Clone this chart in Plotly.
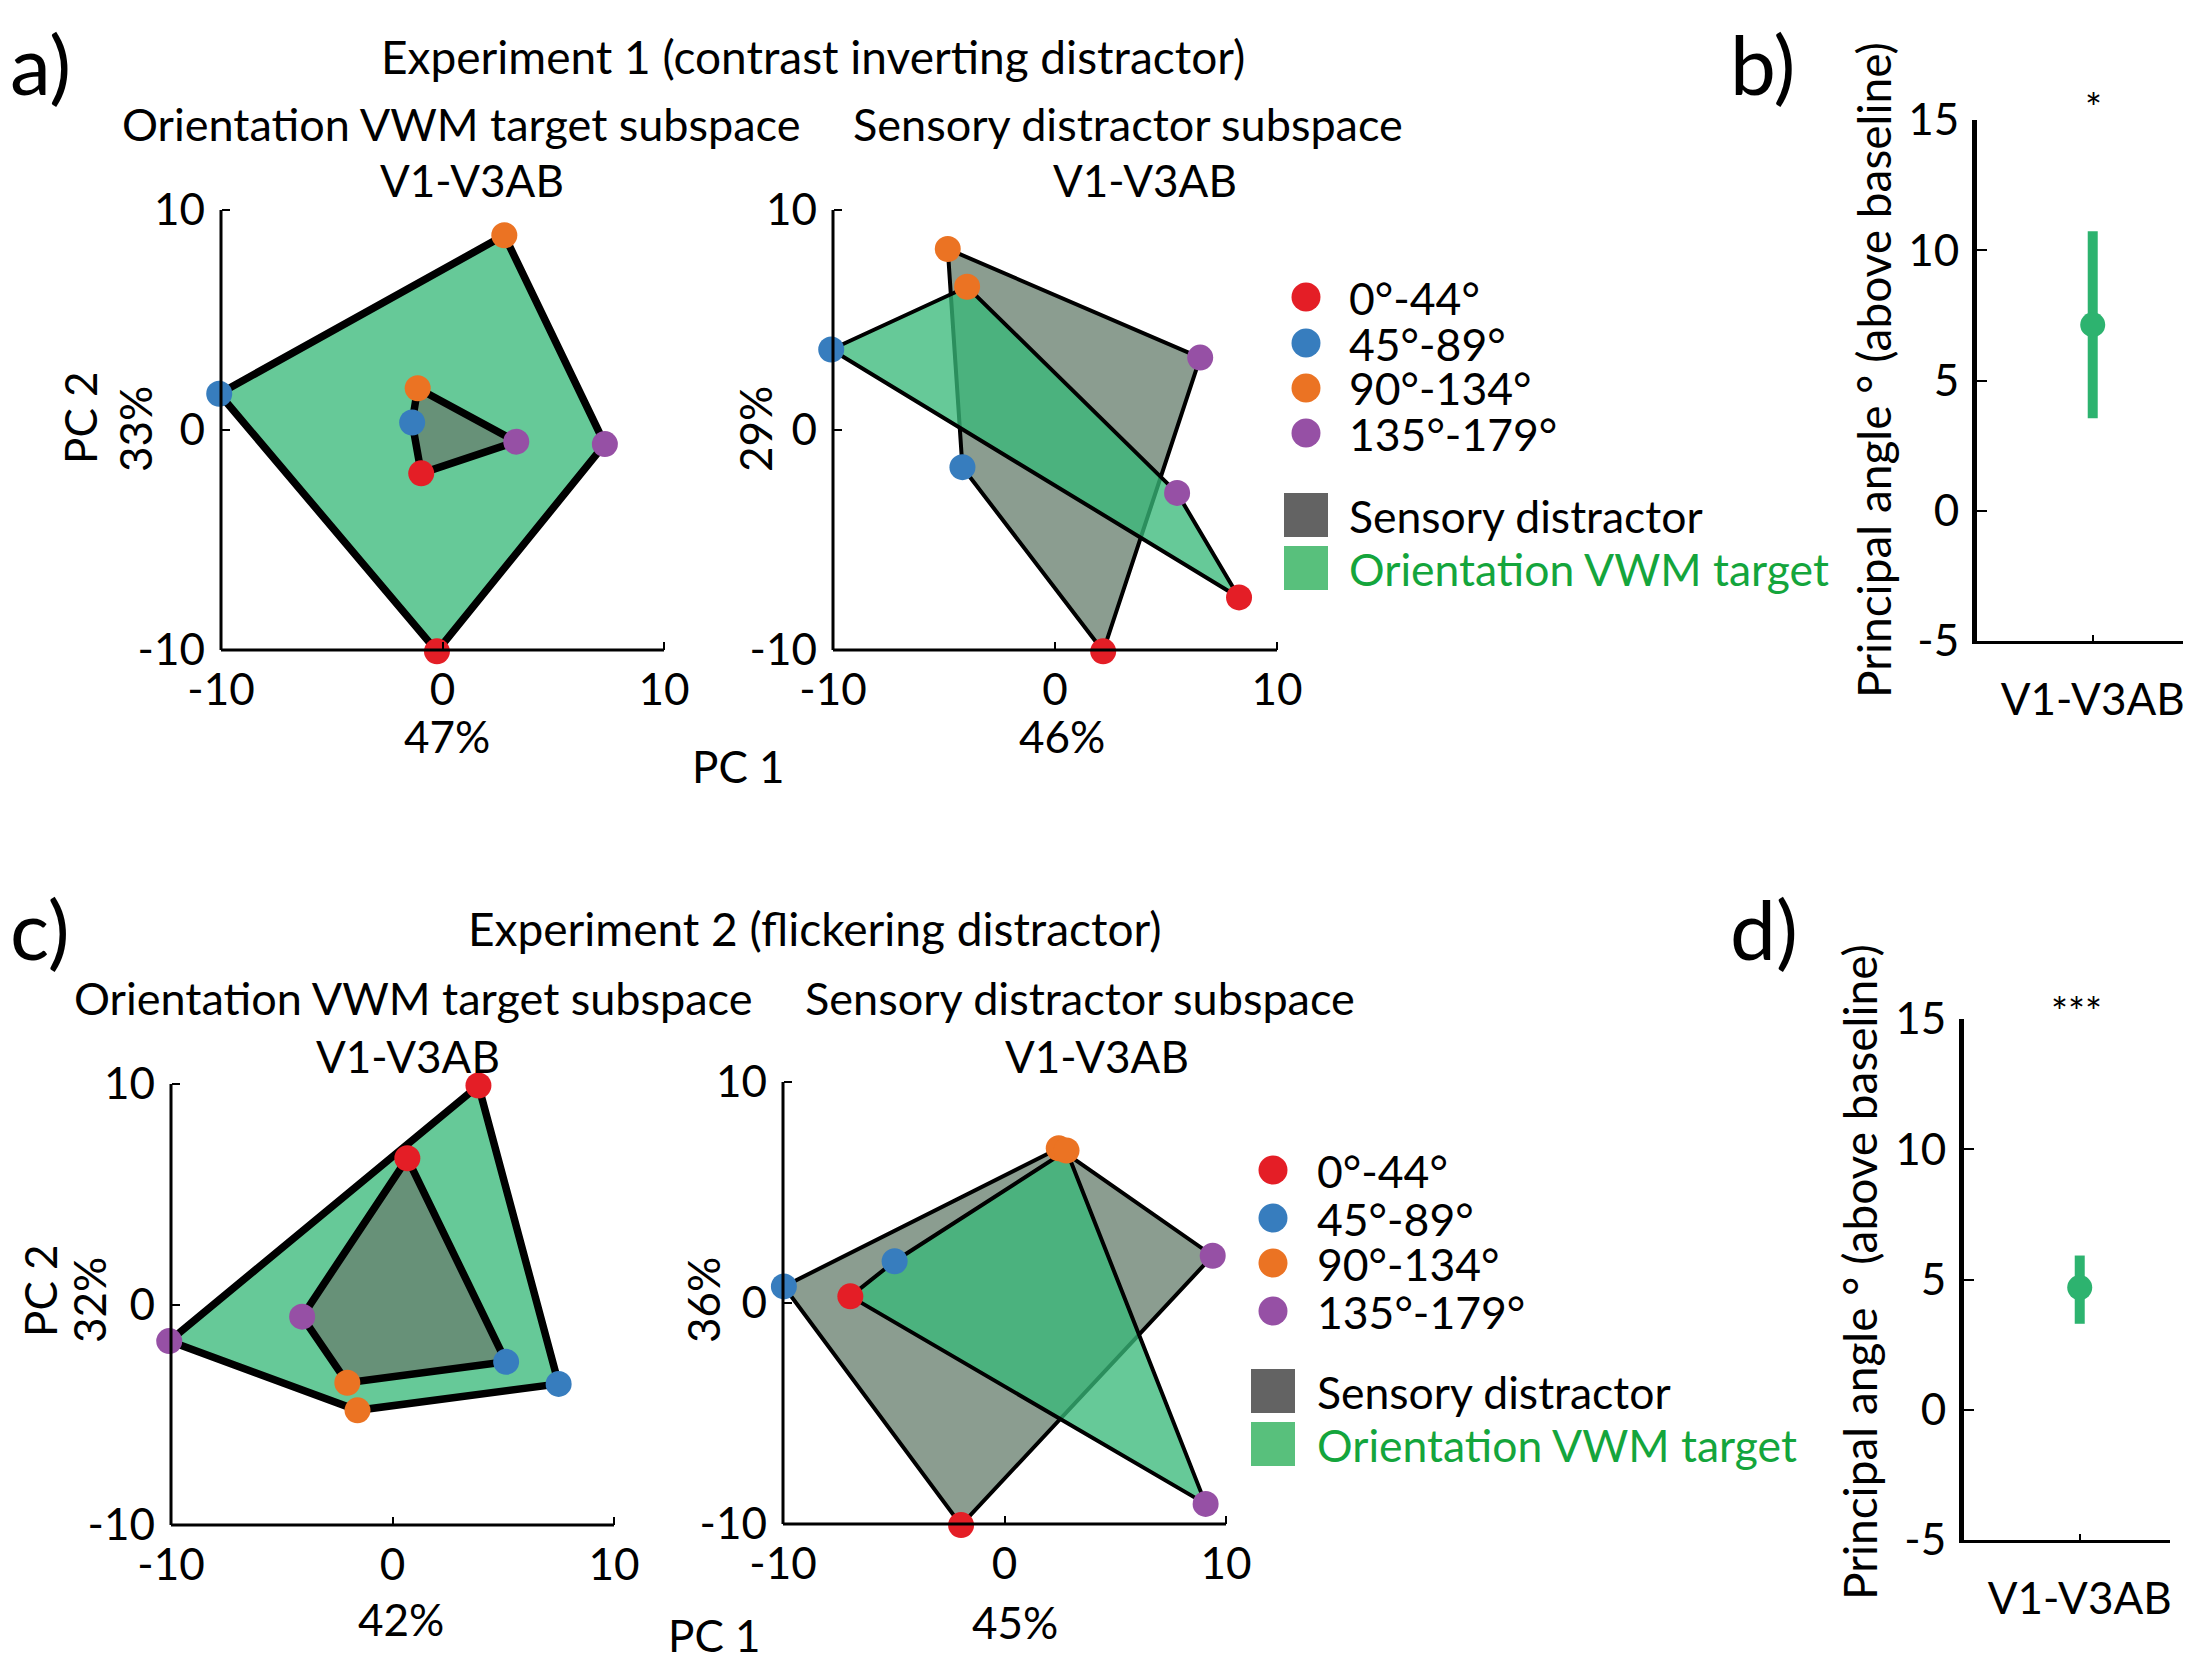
import plotly.graph_objects as go

W, H = 2205, 1665
FONT = "Lato"
OFF = 8  # the page body margin shifts the figure by 8 px

# ---------------- data ----------------
bins = ["0°-44°", "45°-89°", "90°-134°", "135°-179°"]
bin_colors = ["#e41e26", "#377dbe", "#eb7323", "#9650a5"]

# order of vertices in every list: 0°-44°, 45°-89°, 90°-134°, 135°-179°
a_left_target_x = [-0.25, -10.08, 2.79, 7.33]
a_left_target_y = [-10.06, 1.65, 8.85, -0.64]
a_left_distr_x = [-0.96, -1.37, -1.12, 3.33]
a_left_distr_y = [-1.97, 0.34, 1.90, -0.53]

a_right_distr_x = [2.17, -4.17, -4.83, 6.54]
a_right_distr_y = [-10.06, -1.69, 8.23, 3.29]
a_right_target_x = [8.29, -10.08, -3.96, 5.50]
a_right_target_y = [-7.61, 3.66, 6.51, -2.86]

c_left_target_x = [3.88, 7.50, -1.58, -10.08]
c_left_target_y = [9.93, -3.60, -4.80, -1.66]
c_left_distr_x = [0.67, 5.13, -2.04, -4.08]
c_left_distr_y = [6.63, -2.60, -3.55, -0.55]

c_right_distr_x = [-1.96, -9.96, 2.45, 9.40]
c_right_distr_y = [-10.05, 0.75, 7.00, 2.14]
c_right_target_x = [-6.96, -4.96, 2.80, 9.08]
c_right_target_y = [0.30, 1.89, 6.90, -9.09]

pc_ticks = [-10, 0, 10]
pc_ticktext = ["-10", "0", "10"]
var_x = ["47%", "46%", "42%", "45%"]
var_y = ["33%", "29%", "32%", "36%"]

angle_region = ["V1-V3AB"]
b_mean, b_lo, b_hi = [7.14], [3.55], [10.73]
d_mean, d_lo, d_hi = [4.69], [3.30], [5.92]
angle_ticks = [-5, 0, 5, 10, 15]
angle_ticktext = ["-5", "0", "5", "10", "15"]

# ---------------- styles ----------------
GREEN_FILL = "rgba(56,185,121,0.77)"
GRAY_FILL = "rgba(104,128,110,0.77)"
LEG_GREEN = "#58c07c"
LEG_GRAY = "#636363"
TXT_GREEN = "#14a53c"
PT_GREEN = "#2db36f"
FS = 44

fig = go.Figure()
shapes = []
annotations = []

PAD = 0.6
R = 10 + PAD


def px2fx(px):
    return (px - OFF) / W


def py2fy(py):
    return 1 - (py - OFF) / H


def add_pca_panel(idx, xl, xr, yt, yb, polys, thick):
    """xl/xr: pixel of data -10/+10 ; yt/yb: pixel of data +10/-10"""
    ux = (xr - xl) / 20
    uy = (yb - yt) / 20
    xa = f"xaxis{idx}"
    ya = f"yaxis{idx}"
    fig.layout[xa] = dict(
        domain=[px2fx(xl - PAD * ux), px2fx(xr + PAD * ux)], range=[-R, R],
        anchor="free", position=py2fy(yb), showline=False, showgrid=False,
        zeroline=False, tickvals=pc_ticks, ticktext=pc_ticktext, ticks="inside",
        ticklen=8, tickwidth=2, tickcolor="black", automargin=False,
        tickfont=dict(family=FONT, size=FS, color="black"), ticklabelstandoff=10,
    )
    fig.layout[ya] = dict(
        domain=[py2fy(yb + PAD * uy), py2fy(yt - PAD * uy)], range=[-R, R],
        anchor="free", position=px2fx(xl), showline=False, showgrid=False,
        zeroline=False, tickvals=pc_ticks, ticktext=pc_ticktext, ticks="inside",
        ticklen=8, tickwidth=2, tickcolor="black", automargin=False,
        tickfont=dict(family=FONT, size=FS, color="black"), ticklabelstandoff=16,
    )
    xr_ = f"x{idx}"
    yr_ = f"y{idx}"
    shapes.append(dict(type="line", xref=xr_, yref=yr_, x0=-10, x1=10, y0=-10, y1=-10,
                       line=dict(color="black", width=3)))
    shapes.append(dict(type="line", xref=xr_, yref=yr_, x0=-10, x1=-10, y0=-10, y1=10,
                       line=dict(color="black", width=3)))
    for px, py, fill, name in polys:
        fig.add_trace(go.Scatter(
            x=px + px[:1], y=py + py[:1], mode="lines", fill="toself",
            fillcolor=fill, line=dict(color="black", width=thick),
            xaxis=xr_, yaxis=yr_, showlegend=False, name=name, hoverinfo="skip"))
    for px, py, fill, name in polys:
        fig.add_trace(go.Scatter(
            x=px, y=py, mode="markers", marker=dict(color=bin_colors, size=26),
            text=bins, cliponaxis=False, xaxis=xr_, yaxis=yr_, showlegend=False,
            name=name))


add_pca_panel(1, 221, 664, 210, 650, [
    (a_left_target_x, a_left_target_y, GREEN_FILL, "Orientation VWM target"),
    (a_left_distr_x, a_left_distr_y, GRAY_FILL, "Sensory distractor")], 7.5)
add_pca_panel(2, 833, 1277, 210, 650, [
    (a_right_distr_x, a_right_distr_y, GRAY_FILL, "Sensory distractor"),
    (a_right_target_x, a_right_target_y, GREEN_FILL, "Orientation VWM target")], 4)
add_pca_panel(3, 171, 614, 1084, 1525, [
    (c_left_target_x, c_left_target_y, GREEN_FILL, "Orientation VWM target"),
    (c_left_distr_x, c_left_distr_y, GRAY_FILL, "Sensory distractor")], 7.5)
add_pca_panel(4, 783, 1226, 1082, 1524, [
    (c_right_distr_x, c_right_distr_y, GRAY_FILL, "Sensory distractor"),
    (c_right_target_x, c_right_target_y, GREEN_FILL, "Orientation VWM target")], 4)


def add_angle_panel(idx, xl, xr, yt, yb, mean, lo, hi):
    fig.layout[f"xaxis{idx}"] = dict(
        domain=[px2fx(xl), px2fx(xr)], range=[0, 1.78], anchor=f"y{idx}",
        showline=True, linecolor="black", linewidth=3, showgrid=False, zeroline=False,
        tickvals=[1], ticktext=angle_region, ticks="inside", ticklen=6, tickwidth=2,
        tickcolor="black", tickfont=dict(family=FONT, size=FS, color="black"),
        ticklabelstandoff=18, automargin=False,
    )
    fig.layout[f"yaxis{idx}"] = dict(
        domain=[py2fy(yb), py2fy(yt)], range=[-5, 15], anchor=f"x{idx}",
        showline=True, linecolor="black", linewidth=5, showgrid=False, zeroline=False,
        tickvals=angle_ticks, ticktext=angle_ticktext, ticks="inside", ticklen=10,
        tickwidth=2, tickcolor="black", tickfont=dict(family=FONT, size=FS, color="black"),
        ticklabelstandoff=4, automargin=False,
    )
    fig.add_trace(go.Scatter(
        x=[1], y=mean, mode="markers",
        marker=dict(color=PT_GREEN, size=25),
        error_y=dict(type="data", symmetric=False,
                     array=[h - m for h, m in zip(hi, mean)],
                     arrayminus=[m - l for m, l in zip(mean, lo)],
                     color=PT_GREEN, thickness=10, width=0),
        xaxis=f"x{idx}", yaxis=f"y{idx}", showlegend=False, cliponaxis=False))


add_angle_panel(5, 1977, 2183, 120, 641, b_mean, b_lo, b_hi)
add_angle_panel(6, 1964, 2170, 1019, 1540, d_mean, d_lo, d_hi)


def txt(x, y, s, size=FS, color="black", angle=0, xanchor="center"):
    annotations.append(dict(x=px2fx(x), y=py2fy(y), xref="paper", yref="paper", text=s,
                            showarrow=False, textangle=angle, xanchor=xanchor,
                            yanchor="middle", font=dict(family=FONT, size=size, color=color)))


# panel letters
txt(8, 63, "a)", 82, xanchor="left")
txt(1728, 63, "b)", 82, xanchor="left")
txt(8, 928, "c)", 82, xanchor="left")
txt(1728, 928, "d)", 82, xanchor="left")

# row a titles
txt(813, 56, "Experiment 1 (contrast inverting distractor)", 46)
txt(461, 124, "Orientation VWM target subspace", 45)
txt(1128, 124, "Sensory distractor subspace", 45)
txt(472, 180, "V1-V3AB")
txt(1145, 180, "V1-V3AB")
txt(80, 418, "PC 2", angle=-90)
txt(135, 429, var_y[0], angle=-90)
txt(755, 429, var_y[1], angle=-90)
txt(447, 736, var_x[0])
txt(1062, 736, var_x[1])
txt(738, 766, "PC 1")

# row c titles
txt(815, 928, "Experiment 2 (flickering distractor)", 46)
txt(413, 998, "Orientation VWM target subspace", 45)
txt(1080, 998, "Sensory distractor subspace", 45)
txt(408, 1056, "V1-V3AB")
txt(1097, 1056, "V1-V3AB")
txt(40, 1291, "PC 2", angle=-90)
txt(89, 1300, var_y[2], angle=-90)
txt(703, 1300, var_y[3], angle=-90)
txt(401, 1619, var_x[2])
txt(1015, 1622, var_x[3])
txt(714, 1635, "PC 1")

# angle panels
txt(1874, 370, "Principal angle ° (above baseline)", 46, angle=-90)
txt(1859, 1272, "Principal angle ° (above baseline)", 46, angle=-90)
txt(2093, 108, "*", 40)
txt(2076, 1012, "***", 40)


def legend(cx, tx, ys, sq_ys):
    r = 14.5
    for c, lab, y in zip(bin_colors, bins, ys):
        shapes.append(dict(type="circle", xref="paper", yref="paper",
                           x0=px2fx(cx - r), x1=px2fx(cx + r), y0=py2fy(y + r), y1=py2fy(y - r),
                           fillcolor=c, line=dict(width=0)))
        txt(tx, y, lab, 44.5, xanchor="left")
    s = 22
    for c, lab, tc, y in zip([LEG_GRAY, LEG_GREEN], ["Sensory distractor", "Orientation VWM target"],
                             ["black", TXT_GREEN], sq_ys):
        shapes.append(dict(type="rect", xref="paper", yref="paper",
                           x0=px2fx(cx - s), x1=px2fx(cx + s), y0=py2fy(y + s), y1=py2fy(y - s),
                           fillcolor=c, line=dict(width=0)))
        txt(tx, y, lab, 44.5, color=tc, xanchor="left")


legend(1306, 1347, [297, 343, 388, 433], [515, 568])
legend(1273, 1315, [1170, 1218, 1263, 1311], [1391, 1444])

fig.update_layout(
    template="none",
    width=W, height=H, margin=dict(l=0, r=0, t=0, b=0, autoexpand=False),
    paper_bgcolor="white", plot_bgcolor="rgba(0,0,0,0)",
    shapes=shapes, annotations=annotations, showlegend=False,
    font=dict(family=FONT, color="black"),
)
fig.write_html("out.html")
